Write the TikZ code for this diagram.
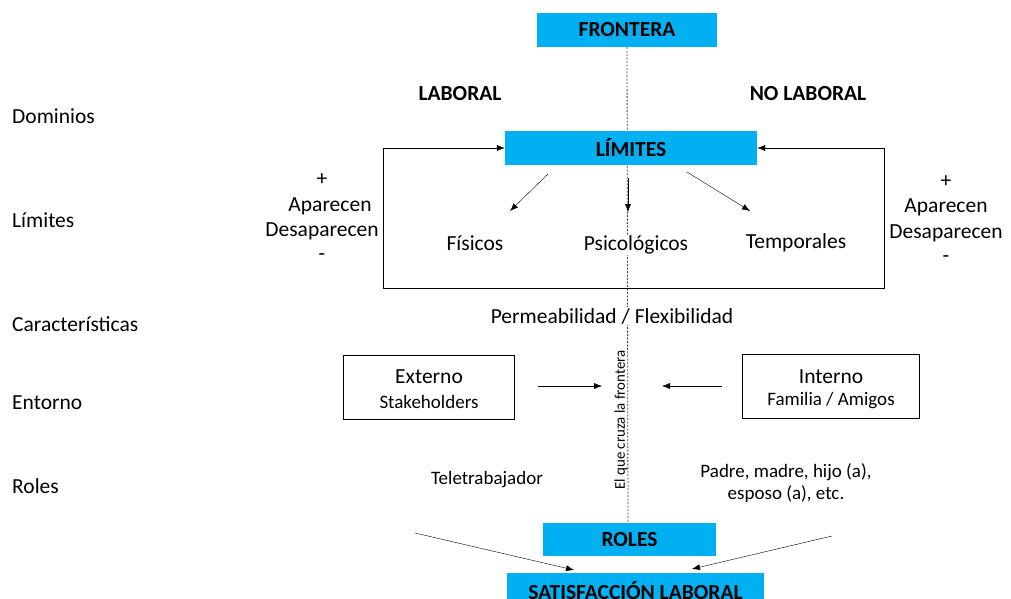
\documentclass[tikz,border=0pt]{standalone}
\usepackage{fontspec}
\setmainfont{Carlito}
\usetikzlibrary{arrows.meta}
\definecolor{cian}{RGB}{0,176,240}
\newcommand{\grande}{\fontsize{21.5}{24}\selectfont}
\newcommand{\chico}{\fontsize{19}{22}\selectfont}
\begin{document}
\begin{tikzpicture}[x=1pt, y=-1pt]
 \tikzstyle{titulo}=[fill=cian, inner sep=0pt, font=\grande\bfseries, text=black]
 \tikzstyle{marco}=[draw, thin, inner sep=0pt]
 \tikzstyle{etiq}=[inner sep=1pt, font=\grande]
 \tikzstyle{lado}=[anchor=west, inner sep=0pt, font=\grande]
 \tikzstyle{flecha}=[-{Latex[length=8pt, width=6pt]}, thin]
 \tikzstyle{punteada}=[dash pattern=on 2pt off 1.5pt, line width=0.8pt, black!75]
 \useasboundingbox (0,0) rectangle (1011,598);
 \clip (0,0) rectangle (1011,598);
 %
 \node[titulo, minimum width=180pt, minimum height=34pt] (fron) at (627,30) {FRONTERA};
 \node[titulo, minimum width=173pt, minimum height=33pt] (rol) at (629.5,539.5) {ROLES};
 \node[titulo, minimum width=257pt, minimum height=36pt] (sat) at (635.5,591) {SATISFACCIÓN LABORAL};
 %
 \draw[punteada] (fron.south) -- (628,523);
 %
 \node[titulo, minimum width=252pt, minimum height=34pt] (lim) at (631,148) {LÍMITES};
 %
 \node[etiq, font=\grande\bfseries] (lab) at (460,94) {LABORAL};
 \node[etiq, font=\grande\bfseries] (nolab) at (808,94) {NO LABORAL};
 %
 \node[lado] (dom) at (12,116) {Dominios};
 \node[lado] (lims) at (12,220) {Límites};
 \node[lado] (car) at (12,324) {Características};
 \node[lado] (ent) at (12,403) {Entorno};
 \node[lado] (roles) at (12,486) {Roles};
 %
 \node[etiq] (fis) at (475,243) {Físicos};
 \node[etiq, fill=white] (psi) at (636,245) {Psicológicos};
 \node[etiq] (tem) at (796,243) {Temporales};
 %
 \node[etiq] (masI) at (322,180) {+};
 \node[etiq] (apI) at (330,206) {Aparecen};
 \node[etiq] (desI) at (322,231) {Desaparecen};
 \node[etiq] (menI) at (322,257) {-};
 \node[etiq] (masD) at (946,182) {+};
 \node[etiq] (apD) at (946,207) {Aparecen};
 \node[etiq] (desD) at (946,233) {Desaparecen};
 \node[etiq] (menD) at (946,259) {-};
 %
 \coordinate (base) at (634,288);
 \coordinate (esqI) at (383,288);
 \coordinate (esqD) at (884,288);
 \draw[flecha] (base) -- (esqI) |- (lim.west);
 \draw[flecha] (base) -- (esqD) |- (lim.east);
 %
 \coordinate (a1) at (548,174);
 \coordinate (b1) at (510,211);
 \coordinate (a2) at (628,178);
 \coordinate (b2) at (628,212);
 \coordinate (a3) at (687,172);
 \coordinate (b3) at (750,211);
 \draw[flecha] (a1)--(b1);
 \draw[flecha] (a2)--(b2);
 \draw[flecha] (a3)--(b3);
 %
 \node[etiq, fill=white] (perm) at (612,316) {Permeabilidad / Flexibilidad};
 %
 \node[marco, minimum width=171pt, minimum height=64pt] (ext) at (428.5,387) {};
 \node[etiq] (extT) at (429,377) {Externo};
 \node[etiq, font=\chico] (extS) at (429,402) {Stakeholders};
 \node[marco, minimum width=177pt, minimum height=64pt] (int) at (830.5,386) {};
 \node[etiq] (intT) at (831,377) {Interno};
 \node[etiq, font=\chico] (intS) at (831,401) {Familia / Amigos};
 \coordinate (c1) at (538,386);
 \coordinate (d1) at (602,386);
 \coordinate (c2) at (722,386);
 \coordinate (d2) at (662,386);
 \draw[flecha] (c1)--(d1);
 \draw[flecha] (c2)--(d2);
 %
 \node[etiq, rotate=90, font=\fontsize{14.9}{16}\selectfont] (cruza) at (621,420) {El que cruza la frontera};
 %
 \node[etiq, font=\chico] (tele) at (487,480) {Teletrabajador};
 \node[etiq, font=\chico, align=center] (padre) at (786,483) {Padre, madre, hijo (a),\\esposo (a), etc.};
 %%
 \coordinate (e1) at (415,533);
 \coordinate (e2) at (832,536);
 \draw[flecha] (e1)--(574,570);
 \draw[flecha] (e2)--(692,569);
\end{tikzpicture}
\end{document}
